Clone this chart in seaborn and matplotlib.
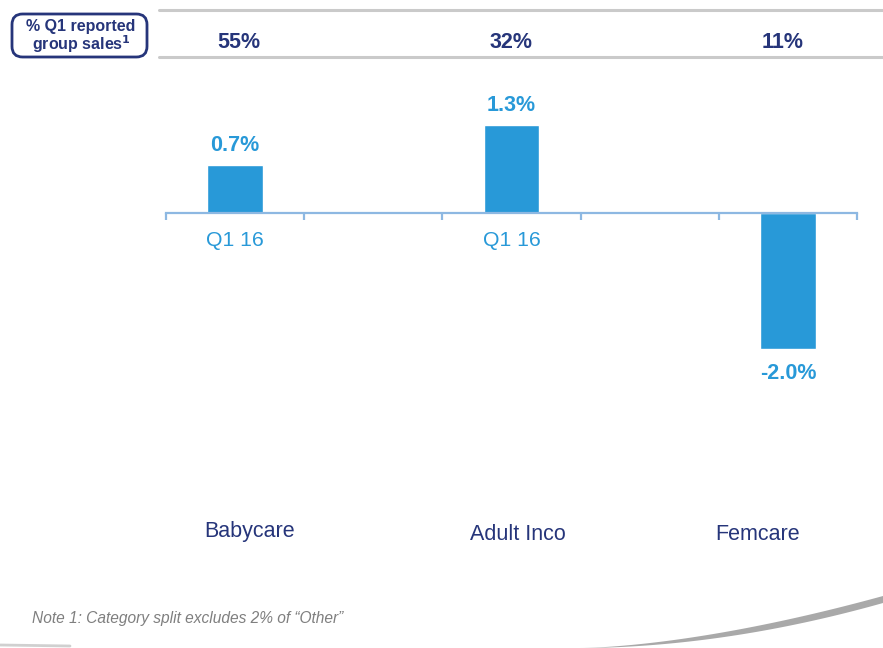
import numpy as np
import pandas as pd
import matplotlib
matplotlib.use("Agg")
import matplotlib.pyplot as plt
import matplotlib.transforms as mtransforms
from matplotlib.patches import FancyBboxPatch, Polygon
import seaborn as sns

# Data
segments = ["Babycare", "Adult Inco", "Femcare"]
group_share = ["55%", "32%", "11%"]
growth = [0.7, 1.3, -2.0]
period = "Q1 16"
note = "Note 1: Category split excludes 2% of \u201cOther\u201d"

sns.set_theme(style="white")
plt.rcParams["font.family"] = ["Liberation Sans", "DejaVu Sans"]

W, H = 883, 648
BLUE = "#2899D8"
NAVY = "#26357A"
AXIS = "#8DB8E2"

fig = plt.figure(figsize=(W / 100, H / 100), dpi=100)
fig.patch.set_facecolor("white")


def fx(x):
    return x / W


def fy(y):
    return 1 - y / H


# Five slots: segments sit in every other slot
slots = [segments[0], " ", segments[1], "  ", segments[2]]
df = pd.DataFrame({"slot": segments, "growth": growth})

ax_left, ax_right, ax_top, ax_bot = 166, 857, 80, 480
ax = fig.add_axes([fx(ax_left), fy(ax_bot), fx(ax_right - ax_left), (ax_bot - ax_top) / H])
sns.barplot(data=df, x="slot", y="growth", order=slots, color=BLUE,
            saturation=1, width=0.405, ax=ax, zorder=2)

px_per_pct = 68.0
ax.set_ylim(-(ax_bot - 213) / px_per_pct, (213 - ax_top) / px_per_pct)
ax.set_xlim(-0.5, 4.5)
ax.set_facecolor("none")

for s in ["top", "left", "right"]:
    ax.spines[s].set_visible(False)
ax.spines["bottom"].set_position(("data", 0))
ax.spines["bottom"].set_color(AXIS)
ax.spines["bottom"].set_linewidth(1.6)
ax.spines["bottom"].set_zorder(3)
ax.set_xticks(np.arange(-0.5, 5.0, 1.0))
ax.set_xticklabels([])
ax.tick_params(axis="x", which="major", direction="out", length=5, width=1.6,
               color=AXIS, bottom=True)
ax.set_yticks([])
ax.set_xlabel("")
ax.set_ylabel("")

bar_x = [slots.index(s) for s in segments]
for xi, v in zip(bar_x, growth):
    # period label under the axis (drawn behind the bars)
    ax.annotate(period, (xi, 0), xytext=(0, -27), textcoords="offset pixels",
                ha="center", va="center", fontsize=15.3, color=BLUE, zorder=1)
    # value label
    off = 9 if v >= 0 else -14
    ax.annotate(f"{v:.1f}%", (xi, v), xytext=(0, off), textcoords="offset pixels",
                ha="center", va="bottom" if v >= 0 else "top",
                fontsize=15.5, fontweight="bold", color=BLUE, zorder=4)

# Header band with group sales shares
for y in (10, 57):
    fig.add_artist(plt.Line2D([fx(159), 1.0], [fy(y), fy(y)], color="#CACACA", lw=2.2))

blend = mtransforms.blended_transform_factory(ax.transData, fig.transFigure)
for xi, sh, dx in zip(bar_x, group_share, [4, 0, -5]):
    fig.text(xi, fy(42), sh,
             transform=blend + mtransforms.ScaledTranslation(dx / 100, 0, fig.dpi_scale_trans),
             ha="center", va="center", fontsize=15.5, fontweight="bold", color=NAVY)

box = FancyBboxPatch((fx(12), fy(57)), fx(135), (57 - 14) / H,
                     boxstyle="round,pad=0,rounding_size=0.012",
                     transform=fig.transFigure, facecolor="white",
                     edgecolor=NAVY, lw=2.0, mutation_aspect=W / H)
fig.add_artist(box)
fig.text(fx(81), fy(26), "% Q1 reported", ha="center", va="center",
         fontsize=11.5, fontweight="bold", color=NAVY)
fig.text(fx(81), fy(44), "group sales$^{\\mathbf{1}}$", ha="center", va="center",
         fontsize=11.5, fontweight="bold", color=NAVY)

# Segment names
for xi, name, dx, y in zip(bar_x, segments, [14, 6, -30], [531, 535, 535]):
    fig.text(xi, fy(y), name,
             transform=blend + mtransforms.ScaledTranslation(dx / 100, 0, fig.dpi_scale_trans),
             ha="center", va="center", fontsize=15.5, color=NAVY)

fig.text(fx(32), fy(618), note, ha="left", va="center", fontsize=11.2,
         style="italic", color="#7F7F7F")

# Page curl shadow at the bottom
t = np.linspace(0, 1, 200)
xs = 580 + t * (W - 580)
upper = 648 - 52 * t ** 1.6
lower = 648 - 45 * t ** 1.9
pts = np.column_stack([np.r_[xs, xs[::-1]], np.r_[upper, lower[::-1]]])
fig.add_artist(Polygon([(fx(a), fy(b)) for a, b in pts], closed=True,
                       transform=fig.transFigure, facecolor="#9A9A9A",
                       edgecolor="none", alpha=0.85))
fig.add_artist(plt.Line2D([0, fx(70)], [fy(645), fy(646)], color="#BDBDBD", lw=2, alpha=0.7))

fig.savefig("out.png", dpi=100)
